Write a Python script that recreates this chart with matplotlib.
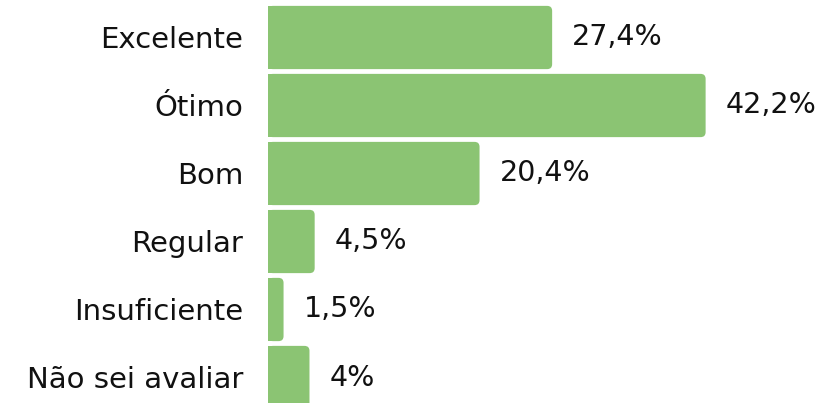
import matplotlib
matplotlib.use("Agg")
import matplotlib.pyplot as plt
from matplotlib.patches import FancyBboxPatch, Rectangle

categories = ["Excelente", "Ótimo", "Bom", "Regular", "Insuficiente", "Não sei avaliar"]
values = [27.4, 42.2, 20.4, 4.5, 1.5, 4.0]
labels = ["27,4%", "42,2%", "20,4%", "4,5%", "1,5%", "4%"]

color = "#8bc473"
plt.rcParams['font.family'] = ['DejaVu Sans']

W, H = 823, 403
fig = plt.figure(figsize=(W / 100, H / 100), dpi=100)
ax_left = 268 / W
ax = fig.add_axes([ax_left, 0, 1 - ax_left, 1])

px_per_unit_x = 10.37
xmax = (W - 268) / px_per_unit_x
row_px = 68.0
first_center = 37.5
ax.set_xlim(0, xmax)
ax.set_ylim((H - first_center) / row_px, -first_center / row_px)

bar_h = 0.93
r_px = 5.0
r = r_px / px_per_unit_x
aspect = px_per_unit_x / row_px

for i, (v, lab) in enumerate(zip(values, labels)):
    y0 = i - bar_h / 2
    ax.add_patch(FancyBboxPatch((0, y0), v, bar_h,
                                boxstyle=f"round,pad=0,rounding_size={r}",
                                mutation_aspect=aspect,
                                facecolor=color, edgecolor="none"))
    ax.add_patch(Rectangle((0, y0), max(v - r, 0), bar_h,
                           facecolor=color, edgecolor="none"))
    ax.annotate(lab, xy=(v, i), xytext=(20, 0), textcoords="offset pixels",
                ha="left", va="center", fontsize=20.5, color="#111111")

ax.set_yticks(range(len(categories)))
ax.set_yticklabels(categories, fontsize=21, color="#111111")
ax.tick_params(axis="y", length=0, pad=18)
ax.set_xticks([])
for s in ax.spines.values():
    s.set_visible(False)

fig.savefig("out.png", dpi=100)
